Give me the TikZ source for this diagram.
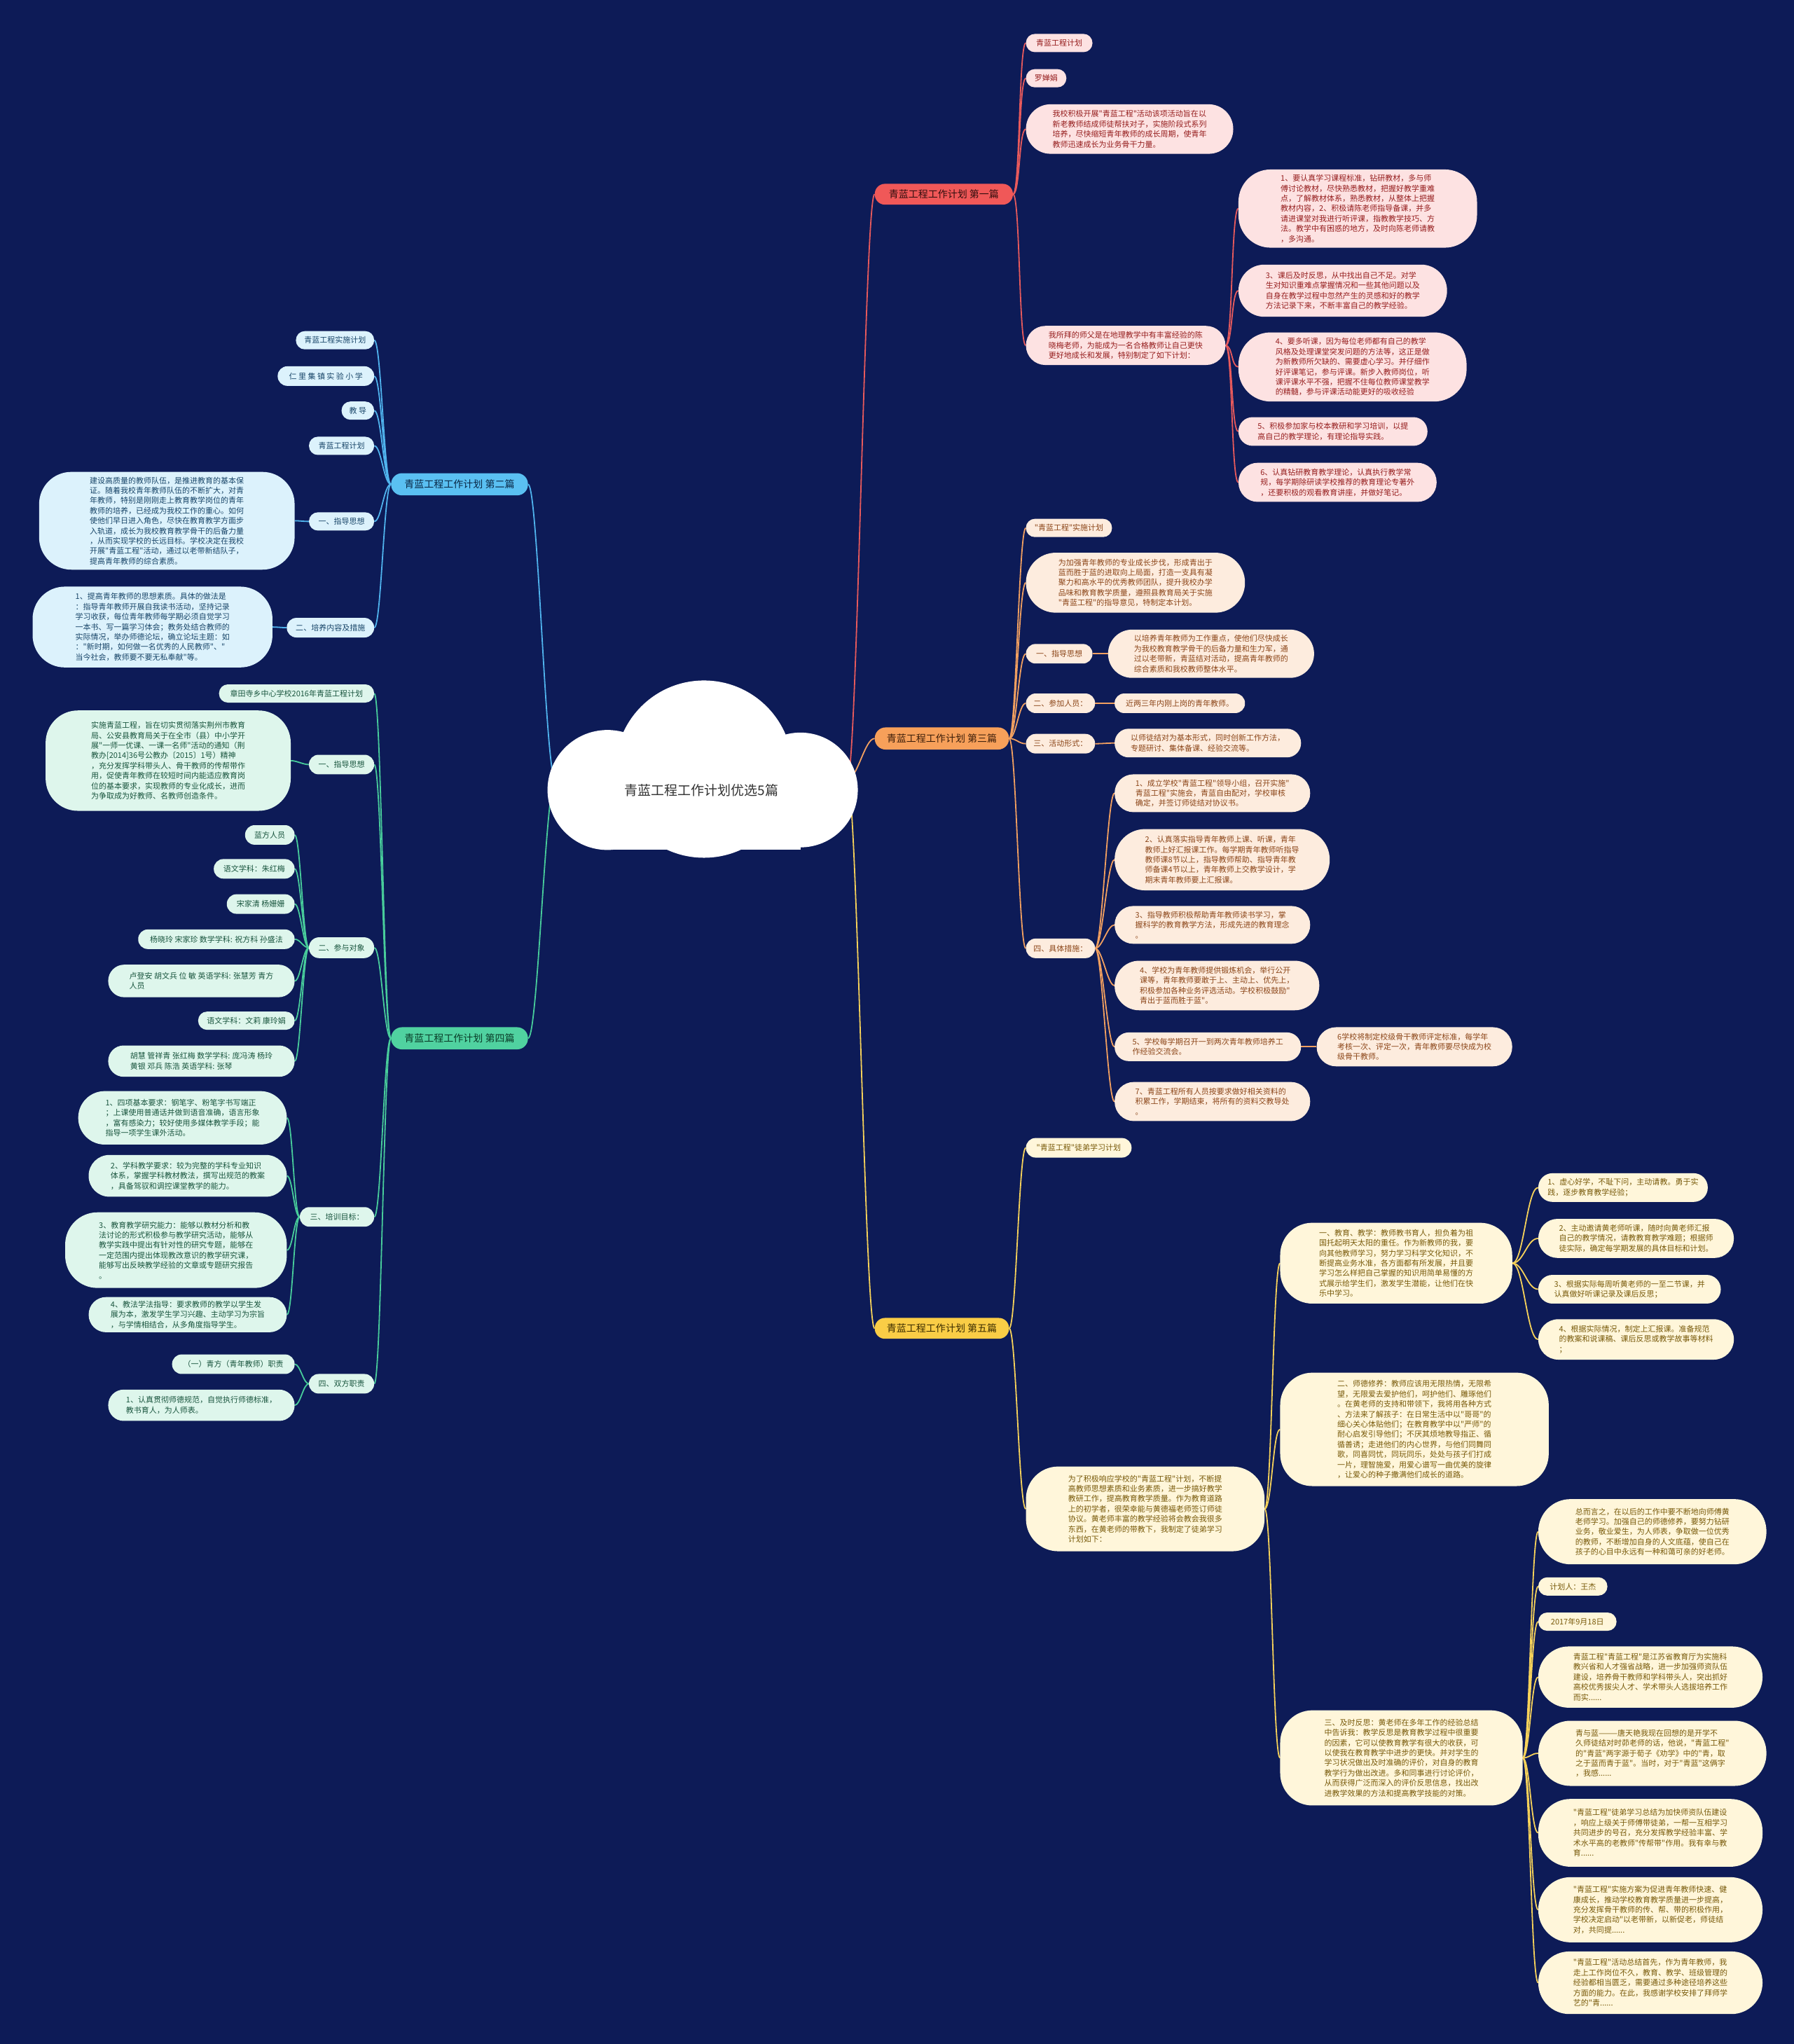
\documentclass[tikz,border=0pt]{standalone}
\usepackage{fontspec}
\newfontfamily\cjk{Noto Sans CJK SC}
\definecolor{bgc}{RGB}{13,27,87}
\definecolor{redE}{RGB}{232,90,92}
\definecolor{redL}{RGB}{240,88,88}
\definecolor{redF}{RGB}{253,226,226}
\definecolor{redT}{RGB}{150,30,30}
\definecolor{redLT}{RGB}{50,15,15}
\definecolor{orE}{RGB}{242,160,96}
\definecolor{orL}{RGB}{247,160,90}
\definecolor{orF}{RGB}{253,236,222}
\definecolor{orT}{RGB}{140,70,25}
\definecolor{orLT}{RGB}{60,30,10}
\definecolor{yeE}{RGB}{246,210,90}
\definecolor{yeL}{RGB}{250,205,70}
\definecolor{yeF}{RGB}{255,246,218}
\definecolor{yeT}{RGB}{120,90,10}
\definecolor{yeLT}{RGB}{60,45,0}
\definecolor{blE}{RGB}{80,180,238}
\definecolor{blL}{RGB}{90,192,242}
\definecolor{blF}{RGB}{220,242,252}
\definecolor{blT}{RGB}{25,70,105}
\definecolor{blLT}{RGB}{10,40,70}
\definecolor{grE}{RGB}{72,205,155}
\definecolor{grL}{RGB}{80,210,160}
\definecolor{grF}{RGB}{222,246,236}
\definecolor{grT}{RGB}{25,85,62}
\definecolor{grLT}{RGB}{10,60,40}
\newcommand\leaffnt{\cjk\fontsize{11}{14.4}\selectfont}
\newcommand\labfnt{\cjk\fontsize{14}{16}\selectfont}
\pgfdeclarelayer{bgl}\pgfdeclarelayer{edg}\pgfsetlayers{bgl,edg,main}
\tikzset{
 leaf/.style={inner sep=0pt, align=left, font=\leaffnt},
 lab/.style={inner sep=0pt, align=center, font=\labfnt},
 leafR/.style={leaf, fill=redF, text=redT},
 leafO/.style={leaf, fill=orF, text=orT},
 leafY/.style={leaf, fill=yeF, text=yeT},
 leafB/.style={leaf, fill=blF, text=blT},
 leafG/.style={leaf, fill=grF, text=grT},
 labR/.style={lab, fill=redL, text=redLT},
 labO/.style={lab, fill=orL, text=orLT},
 labY/.style={lab, fill=yeL, text=yeLT},
 labB/.style={lab, fill=blL, text=blLT},
 labG/.style={lab, fill=grL, text=grLT},
 edgeline/.style={line width=1.8pt},
 edgeR/.style={edgeline, draw=redE},
 edgeO/.style={edgeline, draw=orE},
 edgeY/.style={edgeline, draw=yeE},
 edgeB/.style={edgeline, draw=blE},
 edgeG/.style={edgeline, draw=grE},
}
% #1 style, #2 name, #3 x1, #4 y1, #5 x2, #6 y2, #7 text
\newcommand\mmn[7]{%
  \pgfmathsetmacro\mmW{(#5-#3)*1.8605}%
  \pgfmathsetmacro\mmH{(#6-#4)*1.8605}%
  \pgfmathsetmacro\mmR{min(\mmH/2-0.3,46)}%
  \node[#1,minimum width=\mmW pt,minimum height=\mmH pt,rounded corners=\mmR pt] (#2) at ({(#3+#5)/2},{(#4+#6)/2}) {#7};}
% right links: #1 style, #2 parent, #3 child, #4 distance
\newcommand\lkR[4]{\draw[#1] (#2.east) to[out=0,in=180,distance=#4] (#3.west);}
\newcommand\lkL[4]{\draw[#1] (#2.west) to[out=180,in=0,distance=#4] (#3.east);}
\begin{document}
\begin{tikzpicture}[x=1.8605pt,y=-1.8605pt]
\begin{pgfonlayer}{bgl}
\fill[bgc] (0,0) rectangle (1376,1568);
\end{pgfonlayer}
\useasboundingbox (0,0) rectangle (1376,1568);

% ---------- cloud ----------
\fill[white] (540,590) circle (126.5pt);
\fill[white] (466,606) circle (85.6pt);
\fill[white] (614,606) circle (81.9pt);
\fill[white] (466,592) rectangle (614,652);
\node[font=\cjk\fontsize{19}{22}\selectfont, text=black!80] (center) at (538,606) {青蓝工程工作计划优选5篇};
\coordinate (cR) at (650,598);
\coordinate (cL) at (426,598);

% ---------- branch labels ----------
\mmn{labR}{L1}{671}{141}{777}{157}{青蓝工程工作计划 第一篇}
\mmn{labO}{L3}{671}{558}{774}{575}{青蓝工程工作计划 第三篇}
\mmn{labY}{L5}{671}{1011}{774}{1027}{青蓝工程工作计划 第五篇}
\mmn{labB}{L2}{300}{363}{405}{380}{青蓝工程工作计划 第二篇}
\mmn{labG}{L4}{300}{788}{405}{805}{青蓝工程工作计划 第四篇}

% ---------- part 1 ----------
\mmn{leafR}{r1a}{787}{26}{838}{40}{青蓝工程计划}
\mmn{leafR}{r1b}{787}{53}{818}{67}{罗婵娟}
\mmn{leafR}{r1c}{787}{80}{946}{118}{我校积极开展"青蓝工程"活动该项活动旨在以\\新老教师结成师徒帮扶对子，实施阶段式系列\\培养，尽快缩短青年教师的成长周期，使青年\\教师迅速成长为业务骨干力量。}
\mmn{leafR}{r1d}{787}{250}{940}{280}{我所拜的师父是在地理教学中有丰富经验的陈\\晓梅老师，为能成为一名合格教师让自己更快\\更好地成长和发展，特别制定了如下计划：}
\mmn{leafR}{r1d1}{950}{130}{1133}{190}{1、要认真学习课程标准，钻研教材，多与师\\傅讨论教材，尽快熟悉教材，把握好教学重难\\点，了解教材体系，熟悉教材，从整体上把握\\教材内容，2、积极请陈老师指导备课，并多\\请进课堂对我进行听评课，指教教学技巧、方\\法。教学中有困惑的地方，及时向陈老师请教\\，多沟通。}
\mmn{leafR}{r1d2}{950}{203}{1110}{243}{3、课后及时反思，从中找出自己不足。对学\\生对知识重难点掌握情况和一些其他问题以及\\自身在教学过程中忽然产生的灵感和好的教学\\方法记录下来，不断丰富自己的教学经验。}
\mmn{leafR}{r1d3}{950}{255}{1125}{308}{4、要多听课，因为每位老师都有自己的教学\\风格及处理课堂突发问题的方法等，这正是做\\为新教师所欠缺的、需要虚心学习。并仔细作\\好评课笔记，参与评课。新步入教师岗位，听\\课评课水平不强，把握不住每位教师课堂教学\\的精髓，参与评课活动能更好的吸收经验}
\mmn{leafR}{r1d4}{950}{320}{1095}{342}{5、积极参加家与校本教研和学习培训，以提\\高自己的教学理论，有理论指导实践。}
\mmn{leafR}{r1d5}{950}{355}{1102}{385}{6、认真钻研教育教学理论，认真执行教学常\\规，每学期除研读学校推荐的教育理论专著外\\，还要积极的观看教育讲座，并做好笔记。}

% ---------- part 3 ----------
\mmn{leafO}{o1}{787}{398}{853}{412}{"青蓝工程"实施计划}
\mmn{leafO}{o2}{787}{424}{955}{470}{为加强青年教师的专业成长步伐，形成青出于\\蓝而胜于蓝的进取向上局面，打造一支具有凝\\聚力和高水平的优秀教师团队，提升我校办学\\品味和教育教学质量，遵照县教育局关于实施\\"青蓝工程"的指导意见，特制定本计划。}
\mmn{leafO}{o3}{787}{494}{838}{509}{一、指导思想}
\mmn{leafO}{o3a}{850}{483}{1008}{520}{以培养青年教师为工作重点，使他们尽快成长\\为我校教育教学骨干的后备力量和生力军，通\\过以老带新，青蓝结对活动，提高青年教师的\\综合素质和我校教师整体水平。}
\mmn{leafO}{o4}{787}{532}{840}{547}{二、参加人员：}
\mmn{leafO}{o4a}{855}{532}{955}{547}{近两三年内刚上岗的青年教师。}
\mmn{leafO}{o5}{787}{563}{840}{578}{三、活动形式：}
\mmn{leafO}{o5a}{855}{559}{998}{581}{以师徒结对为基本形式，同时创新工作方法，\\专题研讨、集体备课、经验交流等。}
\mmn{leafO}{o6}{787}{720}{840}{735}{四、具体措施：}
\mmn{leafO}{o6a}{855}{594}{1005}{623}{1、成立学校"青蓝工程"领导小组，召开实施"\\青蓝工程"实施会，青蓝自由配对，学校审核\\确定，并签订师徒结对协议书。}
\mmn{leafO}{o6b}{855}{636}{1020}{683}{2、认真落实指导青年教师上课、听课，青年\\教师上好汇报课工作。每学期青年教师听指导\\教师课8节以上，指导教师帮助、指导青年教\\师备课4节以上，青年教师上交教学设计，学\\期末青年教师要上汇报课。}
\mmn{leafO}{o6c}{855}{695}{1005}{724}{3、指导教师积极帮助青年教师读书学习，掌\\握科学的教育教学方法，形成先进的教育理念\\。}
\mmn{leafO}{o6d}{855}{737}{1012}{775}{4、学校为青年教师提供锻炼机会，举行公开\\课等，青年教师要敢于上、主动上、优先上，\\积极参加各种业务评选活动。学校积极鼓励"\\青出于蓝而胜于蓝"。}
\mmn{leafO}{o6e}{855}{792}{998}{814}{5、学校每学期召开一到两次青年教师培养工\\作经验交流会。}
\mmn{leafO}{o6e1}{1010}{788}{1160}{818}{6学校将制定校级骨干教师评定标准，每学年\\考核一次、评定一次，青年教师要尽快成为校\\级骨干教师。}
\mmn{leafO}{o6f}{855}{830}{1005}{860}{7、青蓝工程所有人员按要求做好相关资料的\\积累工作，学期结束，将所有的资料交教导处\\。}

% ---------- part 5 ----------
\mmn{leafY}{y1}{787}{873}{868}{888}{"青蓝工程"徒弟学习计划}
\mmn{leafY}{y2}{787}{1125}{970}{1190}{为了积极响应学校的"青蓝工程"计划，不断提\\高教师思想素质和业务素质，进一步搞好教学\\教研工作，提高教育教学质量。作为教育道路\\上的初学者，很荣幸能与黄德福老师签订师徒\\协议。黄老师丰富的教学经验将会教会我很多\\东西，在黄老师的带教下，我制定了徒弟学习\\计划如下：}
\mmn{leafY}{y2a}{982}{938}{1160}{1000}{一、教育、教学：教师教书育人，担负着为祖\\国托起明天太阳的重任。作为新教师的我，要\\向其他教师学习，努力学习科学文化知识，不\\断提高业务水准，各方面都有所发展，并且要\\学习怎么样把自己掌握的知识用简单易懂的方\\式展示给学生们，激发学生潜能，让他们在快\\乐中学习。}
\mmn{leafY}{y2a1}{1180}{900}{1310}{922}{1、虚心好学，不耻下问，主动请教。勇于实\\践，逐步教育教学经验；}
\mmn{leafY}{y2a2}{1180}{935}{1330}{965}{2、主动邀请黄老师听课，随时向黄老师汇报\\自己的教学情况，请教教育教学难题；根据师\\徒实际，确定每学期发展的具体目标和计划。}
\mmn{leafY}{y2a3}{1180}{978}{1320}{1000}{3、根据实际每周听黄老师的一至二节课，并\\认真做好听课记录及课后反思；}
\mmn{leafY}{y2a4}{1180}{1012}{1330}{1043}{4、根据实际情况，制定上汇报课。准备规范\\的教案和说课稿、课后反思或教学故事等材料\\；}
\mmn{leafY}{y2b}{982}{1053}{1188}{1140}{二、师德修养：教师应该用无限热情，无限希\\望，无限爱去爱护他们，呵护他们、雕琢他们\\。在黄老师的支持和带领下，我将用各种方式\\、方法来了解孩子：在日常生活中以"哥哥"的\\细心关心体贴他们；在教育教学中以"严师"的\\耐心启发引导他们；不厌其烦地教导指正、循\\循善诱；走进他们的内心世界，与他们同舞同\\歌，同喜同忧，同玩同乐，处处与孩子们打成\\一片，理智施爱，用爱心谱写一曲优美的旋律\\，让爱心的种子撒满他们成长的道路。}
\mmn{leafY}{y2c}{982}{1312}{1168}{1385}{三、及时反思：黄老师在多年工作的经验总结\\中告诉我：教学反思是教育教学过程中很重要\\的因素，它可以使教育教学有很大的收获，可\\以使我在教育教学中进步的更快。并对学生的\\学习状况做出及时准确的评价，对自身的教育\\教学行为做出改进。多和同事进行讨论评价，\\从而获得广泛而深入的评价反思信息，找出改\\进教学效果的方法和提高教学技能的对策。}
\mmn{leafY}{y2c1}{1180}{1150}{1355}{1200}{总而言之，在以后的工作中要不断地向师傅黄\\老师学习。加强自己的师德修养，要努力钻研\\业务，敬业爱生，为人师表，争取做一位优秀\\的教师，不断增加自身的人文底蕴，使自己在\\孩子的心目中永远有一种和蔼可亲的好老师。}
\mmn{leafY}{y2c2}{1180}{1210}{1233}{1224}{计划人：王杰}
\mmn{leafY}{y2c3}{1180}{1237}{1240}{1251}{2017年9月18日}
\mmn{leafY}{y2c4}{1180}{1263}{1352}{1310}{青蓝工程"青蓝工程"是江苏省教育厅为实施科\\教兴省和人才强省战略，进一步加强师资队伍\\建设，培养骨干教师和学科带头人，突出抓好\\高校优秀拔尖人才、学术带头人选拔培养工作\\而实......}
\mmn{leafY}{y2c5}{1180}{1320}{1355}{1370}{青与蓝———唐天艳我现在回想的是开学不\\久师徒结对时茆老师的话，他说，"青蓝工程"\\的"青蓝"两字源于荀子《劝学》中的"青，取\\之于蓝而青于蓝"。当时，对于"青蓝"这俩字\\，我感......}
\mmn{leafY}{y2c6}{1180}{1380}{1352}{1432}{"青蓝工程"徒弟学习总结为加快师资队伍建设\\，响应上级关于师傅带徒弟，一帮一互相学习\\共同进步的号召，充分发挥教学经验丰富、学\\术水平高的老教师"传帮带"作用。我有幸与教\\育......}
\mmn{leafY}{y2c7}{1180}{1440}{1352}{1490}{"青蓝工程"实施方案为促进青年教师快速、健\\康成长，推动学校教育教学质量进一步提高，\\充分发挥骨干教师的传、帮、带的积极作用，\\学校决定启动"以老带新，以新促老，师徒结\\对，共同提......}
\mmn{leafY}{y2c8}{1180}{1497}{1352}{1545}{"青蓝工程"活动总结首先，作为青年教师，我\\走上工作岗位不久，教育、教学、班级管理的\\经验都相当匮乏，需要通过多种途径培养这些\\方面的能力。在此，我感谢学校安排了拜师学\\艺的"青......}

% ---------- part 2 ----------
\mmn{leafB}{b1}{227}{254}{287}{268}{青蓝工程实施计划}
\mmn{leafB}{b2}{213}{281}{287}{296}{仁 里 集 镇 实 验 小 学}
\mmn{leafB}{b3}{262}{308}{287}{322}{教 导}
\mmn{leafB}{b4}{237}{335}{287}{349}{青蓝工程计划}
\mmn{leafB}{b5}{237}{393}{287}{407}{一、指导思想}
\mmn{leafB}{b5a}{30}{362}{226}{437}{建设高质量的教师队伍，是推进教育的基本保\\证。随着我校青年教师队伍的不断扩大，对青\\年教师，特别是刚刚走上教育教学岗位的青年\\教师的培养，已经成为我校工作的重心。如何\\使他们早日进入角色，尽快在教育教学方面步\\入轨道，成长为我校教育教学骨干的后备力量\\，从而实现学校的长远目标。学校决定在我校\\开展"青蓝工程"活动，通过以老带新结队子，\\提高青年教师的综合素质。}
\mmn{leafB}{b6}{220}{474}{287}{489}{二、培养内容及措施}
\mmn{leafB}{b6a}{25}{450}{209}{512}{1、提高青年教师的思想素质。具体的做法是\\：指导青年教师开展自我读书活动，坚持记录\\学习收获，每位青年教师每学期必须自觉学习\\一本书、写一篇学习体会；教务处结合教师的\\实际情况，举办师德论坛，确立论坛主题：如\\："新时期，如何做一名优秀的人民教师"、"\\当今社会，教师要不要无私奉献"等。}

% ---------- part 4 ----------
\mmn{leafG}{g1}{168}{525}{287}{539}{章田寺乡中心学校2016年青蓝工程计划}
\mmn{leafG}{g2}{237}{579}{287}{594}{一、指导思想}
\mmn{leafG}{g2a}{35}{545}{223}{622}{实施青蓝工程，旨在切实贯彻落实荆州市教育\\局、公安县教育局关于在全市（县）中小学开\\展"一师一优课、一课一名师"活动的通知（荆\\教办[2014]36号公教办〔2015〕1号）精神\\，充分发挥学科带头人、骨干教师的传帮带作\\用，促使青年教师在较短时间内能适应教育岗\\位的基本要求，实现教师的专业化成长，进而\\为争取成为好教师、名教师创造条件。}
\mmn{leafG}{g3}{237}{719}{287}{735}{二、参与对象}
\mmn{leafG}{g3a}{188}{633}{226}{648}{蓝方人员}
\mmn{leafG}{g3b}{164}{659}{226}{674}{语文学科：朱红梅}
\mmn{leafG}{g3c}{174}{686}{226}{701}{宋家清 杨姗姗}
\mmn{leafG}{g3d}{106}{713}{226}{728}{杨晓玲 宋家珍 数学学科: 祝方科 孙盛法}
\mmn{leafG}{g3e}{83}{740}{226}{765}{卢登安 胡文兵 位 敏 英语学科: 张慧芳 青方\\人员}
\mmn{leafG}{g3f}{152}{776}{226}{790}{语文学科：文莉 康玲娟}
\mmn{leafG}{g3g}{83}{802}{226}{826}{胡慧 管祥青 张红梅 数学学科: 庞冯涛 杨玲\\黄银 邓兵 陈浩 英语学科: 张琴}
\mmn{leafG}{g4}{230}{926}{287}{941}{三、培训目标：}
\mmn{leafG}{g4a}{60}{837}{220}{878}{1、四项基本要求：钢笔字、粉笔字书写端正\\；上课使用普通话并做到语音准确，语言形象\\，富有感染力；较好使用多媒体教学手段；能\\指导一项学生课外活动。}
\mmn{leafG}{g4b}{68}{886}{220}{918}{2、学科教学要求：较为完整的学科专业知识\\体系，掌握学科教材教法，撰写出规范的教案\\，具备驾驭和调控课堂教学的能力。}
\mmn{leafG}{g4c}{50}{930}{220}{988}{3、教育教学研究能力：能够以教材分析和教\\法讨论的形式积极参与教学研究活动，能够从\\教学实践中提出有针对性的研究专题，能够在\\一定范围内提出体现教改意识的教学研究课，\\能够写出反映教学经验的文章或专题研究报告\\。}
\mmn{leafG}{g4d}{68}{995}{220}{1022}{4、教法学法指导：要求教师的教学以学生发\\展为本，激发学生学习兴趣、主动学习为宗旨\\，与学情相结合，从多角度指导学生。}
\mmn{leafG}{g5}{237}{1054}{287}{1069}{四、双方职责}
\mmn{leafG}{g5a}{132}{1039}{226}{1054}{（一）青方（青年教师）职责}
\mmn{leafG}{g5b}{83}{1066}{226}{1090}{1、认真贯彻师德规范，自觉执行师德标准，\\教书育人，为人师表。}

% ---------- connectors ----------
\begin{pgfonlayer}{edg}
\draw[edgeR] (cR) to[out=0,in=180,distance=14pt] (L1.west);
\draw[edgeO] (cR) to[out=0,in=180,distance=14pt] (L3.west);
\draw[edgeY] (cR) to[out=0,in=180,distance=14pt] (L5.west);
\draw[edgeB] (cL) to[out=180,in=0,distance=14pt] (L2.east);
\draw[edgeG] (cL) to[out=180,in=0,distance=14pt] (L4.east);
\foreach \c in {r1a,r1b,r1c,r1d} {\lkR{edgeR}{L1}{\c}{10pt}}
\foreach \c in {r1d1,r1d2,r1d3,r1d4,r1d5} {\lkR{edgeR}{r1d}{\c}{10pt}}
\foreach \c in {o1,o2,o3,o4,o5,o6} {\lkR{edgeO}{L3}{\c}{10pt}}
\lkR{edgeO}{o3}{o3a}{10pt}
\lkR{edgeO}{o4}{o4a}{10pt}
\lkR{edgeO}{o5}{o5a}{10pt}
\foreach \c in {o6a,o6b,o6c,o6d,o6e,o6f} {\lkR{edgeO}{o6}{\c}{10pt}}
\lkR{edgeO}{o6e}{o6e1}{10pt}
\foreach \c in {y1,y2} {\lkR{edgeY}{L5}{\c}{10pt}}
\foreach \c in {y2a,y2b,y2c} {\lkR{edgeY}{y2}{\c}{10pt}}
\foreach \c in {y2a1,y2a2,y2a3,y2a4} {\lkR{edgeY}{y2a}{\c}{16pt}}
\foreach \c in {y2c1,y2c2,y2c3,y2c4,y2c5,y2c6,y2c7,y2c8} {\lkR{edgeY}{y2c}{\c}{10pt}}
\foreach \c in {b1,b2,b3,b4,b5,b6} {\lkL{edgeB}{L2}{\c}{10pt}}
\lkL{edgeB}{b5}{b5a}{8pt}
\lkL{edgeB}{b6}{b6a}{8pt}
\foreach \c in {g1,g2,g3,g4,g5} {\lkL{edgeG}{L4}{\c}{10pt}}
\lkL{edgeG}{g2}{g2a}{8pt}
\foreach \c in {g3a,g3b,g3c,g3d,g3e,g3f,g3g} {\lkL{edgeG}{g3}{\c}{8pt}}
\foreach \c in {g4a,g4b,g4c,g4d} {\lkL{edgeG}{g4}{\c}{8pt}}
\foreach \c in {g5a,g5b} {\lkL{edgeG}{g5}{\c}{8pt}}
\end{pgfonlayer}
\end{tikzpicture}
\end{document}
